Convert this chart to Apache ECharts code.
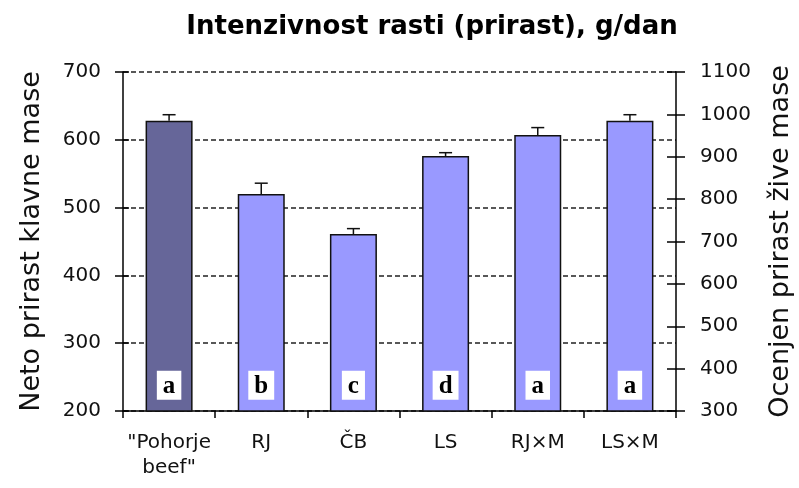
<!DOCTYPE html>
<html>
<head>
<meta charset="utf-8">
<script src="https://cdn.jsdelivr.net/npm/echarts@6/dist/echarts.min.js"></script>
<style>html,body{margin:0;padding:0;background:#fff;}#c{width:799px;height:488px;}</style>
</head>
<body>
<div id="c"></div>
<script>
var categories = ['"Pohorje\nbeef"', 'RJ', 'ČB', 'LS', 'RJ×M', 'LS×M'];
var netGain = [628, 520, 461, 576, 607, 628];
var errors = [9, 16, 8, 5, 11, 9];
var letters = ['a', 'b', 'c', 'd', 'a', 'a'];
var leftTicks = [200, 700, 100];
var rightTicks = [300, 1100, 100];

var chart = echarts.init(document.getElementById('c'), null, {renderer: 'canvas'});
var sans = 'DejaVu Sans';
var axisLine = {show: true, lineStyle: {color: '#000', width: 1.5}};
var gridL = 123, gridR = 123, gridT = 72, gridB = 77;
var plain = function (v) { return String(v); };

var option = {
  animation: false,
  backgroundColor: '#fff',
  title: {
    text: 'Intenzivnost rasti (prirast), g/dan',
    left: 427, top: 9, textAlign: 'center',
    textStyle: {fontFamily: sans, fontWeight: 'bold', fontSize: 26, color: '#000'}
  },
  grid: {left: gridL, right: gridR, top: gridT, bottom: gridB, containLabel: false, outerBoundsMode: 'none'},
  xAxis: {
    type: 'category',
    data: categories,
    axisLine: axisLine,
    axisTick: {show: true, length: 7, lineStyle: {color: '#000', width: 1.5}},
    axisLabel: {fontFamily: sans, fontSize: 20, color: '#111', margin: 19, lineHeight: 25, interval: 0}
  },
  yAxis: [
    {
      type: 'value', position: 'left', min: leftTicks[0], max: leftTicks[1], interval: leftTicks[2],
      name: 'Neto prirast klavne mase', nameLocation: 'middle', nameGap: 78, nameRotate: 90,
      nameTextStyle: {fontFamily: sans, fontSize: 27, color: '#111'},
      axisLine: axisLine,
      axisTick: {show: true, length: 8, lineStyle: {color: '#000', width: 1.5}},
      axisLabel: {fontFamily: sans, fontSize: 20, color: '#111', margin: 22, formatter: plain},
      splitLine: {show: true, lineStyle: {color: '#222', width: 1.5, type: [5, 3]}}
    },
    {
      type: 'value', position: 'right', min: rightTicks[0], max: rightTicks[1], interval: rightTicks[2],
      name: 'Ocenjen prirast žive mase', nameLocation: 'middle', nameGap: 91, nameRotate: 90,
      nameTextStyle: {fontFamily: sans, fontSize: 27, color: '#111'},
      axisLine: axisLine,
      axisTick: {show: true, length: 9, lineStyle: {color: '#000', width: 1.5}},
      axisLabel: {fontFamily: sans, fontSize: 20, color: '#111', margin: 24, formatter: plain},
      splitLine: {show: false}
    },
    {
      type: 'value', position: 'left', min: leftTicks[0], max: leftTicks[1], interval: leftTicks[2],
      axisLine: {show: false},
      axisTick: {show: true, inside: true, length: 6, lineStyle: {color: '#000', width: 1.5}},
      axisLabel: {show: false}, splitLine: {show: false}
    },
    {
      type: 'value', position: 'right', min: rightTicks[0], max: rightTicks[1], interval: rightTicks[2],
      axisLine: {show: false},
      axisTick: {show: true, inside: true, length: 9, lineStyle: {color: '#000', width: 1.5}},
      axisLabel: {show: false}, splitLine: {show: false}
    }
  ],
  series: [
    {
      type: 'bar',
      yAxisIndex: 0,
      data: netGain,
      barWidth: '51%',
      itemStyle: {
        color: function (p) { return p.dataIndex === 0 ? '#666699' : '#9999ff'; },
        borderColor: '#111', borderWidth: 1.5
      },
      label: {
        show: true, position: 'insideBottom', distance: 12,
        formatter: function (p) { return letters[p.dataIndex]; },
        backgroundColor: '#fff', padding: [3, 6, 1, 6],
        fontFamily: 'Liberation Serif', fontWeight: 'bold', fontSize: 25, lineHeight: 25, color: '#000'
      },
      z: 2
    },
    {
      type: 'custom',
      yAxisIndex: 0,
      data: netGain.map(function (v, i) { return [i, v, errors[i]]; }),
      renderItem: function (params, api) {
        var x = api.value(0), v = api.value(1), e = api.value(2);
        var p0 = api.coord([x, v]);
        var p1 = api.coord([x, v + e]);
        var style = {stroke: '#111', lineWidth: 1.5};
        return {
          type: 'group',
          children: [
            {type: 'line', shape: {x1: p0[0], y1: p0[1], x2: p1[0], y2: p1[1]}, style: style},
            {type: 'line', shape: {x1: p1[0] - 6.5, y1: p1[1], x2: p1[0] + 6.5, y2: p1[1]}, style: style}
          ]
        };
      },
      z: 3
    }
  ]
};
chart.setOption(option);
</script>
</body>
</html>
